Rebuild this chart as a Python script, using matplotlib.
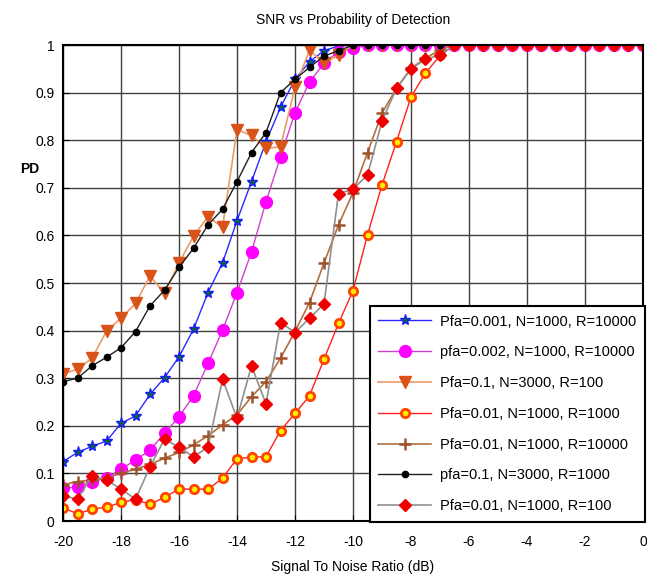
import numpy as np
import matplotlib
matplotlib.use('Agg')
import matplotlib.pyplot as plt

plt.rcParams['font.family'] = ['Liberation Sans', 'DejaVu Sans']
plt.rcParams['axes.unicode_minus'] = False

# eixo x: SNR em dB, passo de 0.5
snr = np.arange(-20, 0.01, 0.5)

pd_001_r10000 = [0.125, 0.144, 0.157, 0.168, 0.205, 0.221, 0.266, 0.301, 0.345, 0.403,
                 0.480, 0.542, 0.631, 0.713, 0.797, 0.869, 0.928, 0.965, 0.988, 0.998] + [1.0] * 21
pd_002_r10000 = [0.069, 0.071, 0.083, 0.090, 0.109, 0.128, 0.149, 0.184, 0.219, 0.263,
                 0.331, 0.401, 0.480, 0.565, 0.671, 0.765, 0.858, 0.922, 0.962, 0.986,
                 0.993] + [1.0] * 20
pd_1_n3000_r100 = [0.309, 0.319, 0.342, 0.399, 0.426, 0.457, 0.515, 0.478, 0.542, 0.599,
                   0.639, 0.617, 0.822, 0.810, 0.783, 0.786, 0.911, 0.989, 0.962, 0.979] + [1.0] * 21
pd_01_r1000 = [0.028, 0.015, 0.025, 0.029, 0.039, 0.045, 0.035, 0.050, 0.067, 0.067,
               0.067, 0.090, 0.131, 0.134, 0.135, 0.190, 0.226, 0.263, 0.340, 0.415,
               0.484, 0.601, 0.706, 0.797, 0.891, 0.941, 0.978] + [1.0] * 14
pd_01_r10000 = [0.076, 0.083, 0.086, 0.091, 0.100, 0.109, 0.119, 0.132, 0.144, 0.160,
                0.179, 0.202, 0.223, 0.261, 0.293, 0.342, 0.398, 0.459, 0.542, 0.622,
                0.690, 0.774, 0.857, 0.909, 0.951, 0.972, 0.990] + [1.0] * 14
pd_1_n3000_r1000 = [0.293, 0.300, 0.326, 0.344, 0.364, 0.398, 0.452, 0.485, 0.533, 0.573,
                    0.622, 0.655, 0.713, 0.774, 0.816, 0.900, 0.928, 0.953, 0.977, 0.988] + [1.0] * 21
pd_01_r100 = [0.053, 0.046, 0.095, 0.086, 0.067, 0.046, 0.114, 0.172, 0.155, 0.135,
              0.155, 0.298, 0.216, 0.326, 0.246, 0.417, 0.396, 0.426, 0.456, 0.688,
              0.697, 0.727, 0.840, 0.909, 0.950, 0.970, 0.979] + [1.0] * 14

fig = plt.figure(figsize=(6.47, 5.75), dpi=100)
ax = fig.add_axes([0.0974, 0.0939, 0.8964, 0.8278])

ax.plot(snr, pd_001_r10000, '-*', color='#2a2aff', mfc='#0a6a2a', mec='#1a1aff', ms=8, lw=1,
        label='Pfa=0.001, N=1000, R=10000')
ax.plot(snr, pd_002_r10000, '-o', color='#d040d0', mfc='#ff00ff', mec='#ff00ff', ms=8.5, lw=1,
        label='pfa=0.002, N=1000, R=10000')
ax.plot(snr, pd_1_n3000_r100, '-v', color='#ec9a6a', mfc='#d95319', mec='#d95319', ms=9, lw=1.2,
        label='Pfa=0.1, N=3000, R=100')
ax.plot(snr, pd_01_r1000, '-o', color='#ff2020', mfc='#ffee00', mec='#ff4400', mew=2, ms=6, lw=1,
        label='Pfa=0.01, N=1000, R=1000')
ax.plot(snr, pd_01_r10000, '-+', color='#b07040', mec='#a0522d', ms=8, mew=1.8, lw=1.2,
        label='Pfa=0.01, N=1000, R=10000')
ax.plot(snr, pd_1_n3000_r1000, '-o', color='#202020', mfc='black', mec='black', ms=4.5, lw=1,
        label='pfa=0.1, N=3000, R=1000')
ax.plot(snr, pd_01_r100, '-D', color='#909090', mfc='#ee0000', mec='#ee0000', ms=6, lw=1.2,
        label='Pfa=0.01, N=1000, R=100')

ax.set_xlim(-20, 0)
ax.set_ylim(0, 1)
ax.set_xticks(np.arange(-20, 1, 2))
ax.set_yticks(np.arange(0, 1.01, 0.1))
ax.set_yticklabels(['0'] + ['%.1f' % v for v in np.arange(0.1, 0.95, 0.1)] + ['1'])
ax.grid(True, color='#404040', lw=1)
ax.tick_params(labelsize=10, direction='in', length=4)
ax.tick_params(axis='x', pad=10)
ax.tick_params(axis='y', pad=6)
for s in ax.spines.values():
    s.set_linewidth(1.5)
    s.set_color('black')

ax.set_title('SNR vs Probability of Detection', fontsize=10, pad=15)
ax.set_xlabel('Signal To Noise Ratio (dB)', fontsize=10, labelpad=8)
ax.text(-0.057, 0.74, 'PD', transform=ax.transAxes, fontsize=10, fontweight='bold',
        ha='center', va='center')

leg = ax.legend(loc='lower right', bbox_to_anchor=(1.003, -0.002), borderaxespad=0,
                fontsize=10.5, fancybox=False, framealpha=1, edgecolor='black',
                handlelength=3.6, labelspacing=1.15, borderpad=0.6, handletextpad=0.6)
leg.get_frame().set_linewidth(1.5)

fig.savefig('out.png', dpi=100)
